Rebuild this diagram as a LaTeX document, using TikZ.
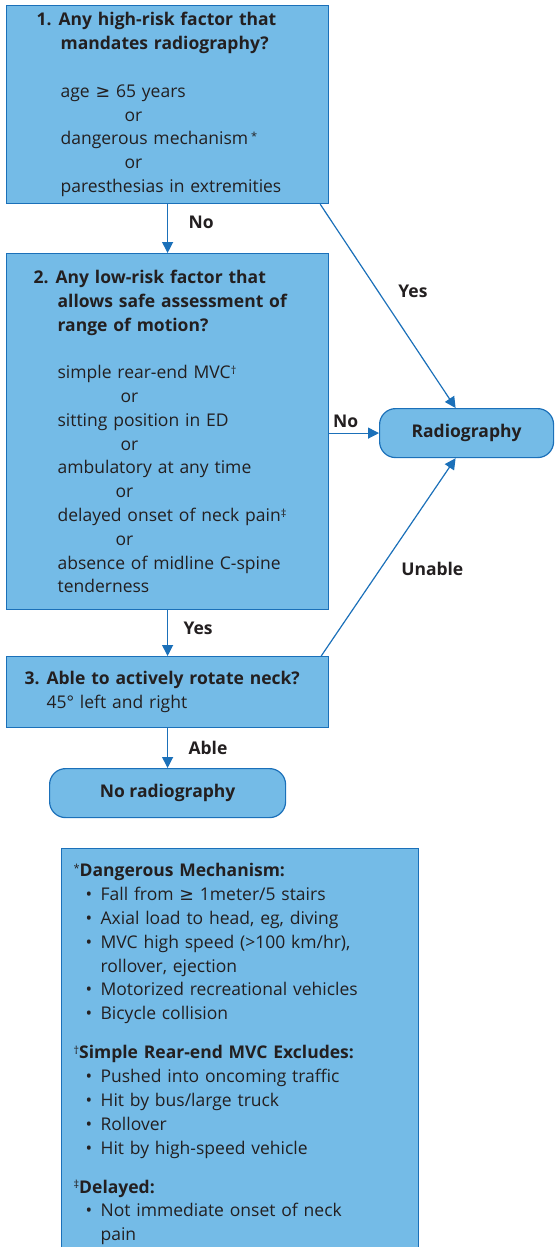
\documentclass[tikz,border=0pt]{standalone}
\usepackage{fontspec}
\setmainfont{Open Sans}
\newfontfamily\symfont{DejaVu Sans}
\usepackage{xcolor}
\usetikzlibrary{arrows.meta}

\definecolor{boxfill}{RGB}{116,187,231}
\definecolor{boxline}{RGB}{27,112,185}
\definecolor{ink}{RGB}{35,31,32}

\newcommand{\fs}{\fontsize{17.5}{23.8}\selectfont}
\newcommand{\gte}{{\symfont ≥}}
\newcommand{\hangnum}[1]{\makebox[22pt][l]{\textbf{#1}}}
\newcommand{\ind}{\hspace*{24pt}}
\newcommand{\bul}{\hspace*{12pt}\makebox[15pt][l]{\textbullet}}
\newcommand{\cont}{\hspace*{27pt}}
\newcommand{\note}[1]{\raisebox{4.5pt}{\fontsize{11}{11}\selectfont #1}}

\begin{document}
\begin{tikzpicture}[
    x=1pt, y=-1pt,
    stepbox/.style={draw=boxline, fill=boxfill, line width=1.2pt, anchor=north west, align=left, text=ink, font=\fs, inner ysep=0pt},
    endbox/.style={draw=boxline, fill=boxfill, line width=1.2pt, rounded corners=16pt, anchor=north west, minimum height=49pt, text=ink, font=\fs\bfseries},
    flow/.style={draw=boxline, line width=1.2pt, -{Triangle[length=11pt, width=11pt]}},
    lbl/.style={text=ink, font=\fs\bfseries}
]
\useasboundingbox (0,0) rectangle (554,1247);

% Nodes
\node (q1) [stepbox, text width=262pt, inner xsep=30pt, minimum height=198pt] at (6,5) {%
  \hangnum{1.}\textbf{Any high-risk factor that}\\
  \ind\textbf{mandates radiography?}\\[23.8pt]
  \ind age \gte{} 65 years\\
  \hspace*{88pt}or\\
  \ind dangerous mechanism\,\note{*}\\
  \hspace*{88pt}or\\
  \ind paresthesias in extremities};
\node (q2) [stepbox, text width=268pt, inner xsep=27pt, minimum height=356pt] at (6,253) {%
  \hangnum{2.}\textbf{Any low-risk factor that}\\
  \ind\textbf{allows safe assessment of}\\
  \ind\textbf{range of motion?}\\[23.8pt]
  \ind simple rear-end MVC\note{†}\\
  \hspace*{87pt}or\\
  \ind sitting position in ED\\
  \hspace*{87pt}or\\
  \ind ambulatory at any time\\
  \hspace*{82pt}or\\
  \ind delayed onset of neck pain\note{‡}\\
  \hspace*{82pt}or\\
  \ind absence of midline C-spine\\
  \ind tenderness};
\node (q3) [stepbox, text width=286pt, inner xsep=18pt, minimum height=71pt] at (6,656) {%
  \hangnum{3.}\textbf{Able to actively rotate neck?}\\
  \hspace*{22pt}45° left and right};
\node (radio) [endbox, minimum width=174pt] at (379,408) {Radiography};
\node (noradio) [endbox, minimum width=236pt] at (49,768) {No radiography};
\node (notes) [stepbox, text width=333pt, inner xsep=12pt, inner ysep=15pt] at (61,848) {%
  \note{*}\textbf{Dangerous Mechanism:}\\
  \bul Fall from \gte{} 1meter/5 stairs\\
  \bul Axial load to head, eg, diving\\
  \bul MVC high speed (>100 km/hr),\\
  \cont rollover, ejection\\
  \bul Motorized recreational vehicles\\
  \bul Bicycle collision\\[15.3pt]
  \note{†}\textbf{Simple Rear-end MVC Excludes:}\\
  \bul Pushed into oncoming traffic\\
  \bul Hit by bus/large truck\\
  \bul Rollover\\
  \bul Hit by high-speed vehicle\\[15.3pt]
  \note{‡}\textbf{Delayed:}\\
  \bul Not immediate onset of neck\\
  \cont pain};

% Arrows
\draw[flow] (q1.south) -- node[lbl, pos=0.38, anchor=west, xshift=17pt] {No} (q2.north);
\draw[flow] ([xshift=-9pt]q1.south east) -- node[lbl, pos=0.43, anchor=west, xshift=16pt] {Yes} ([xshift=-11pt]radio.north);
\draw[flow] (q2.east |- radio.west) -- node[lbl, pos=0.33, above=2pt] {No} (radio.west);
\draw[flow] (q2.south) -- node[lbl, pos=0.4, anchor=west, xshift=12pt] {Yes} (q3.north);
\draw[flow] ([xshift=-8pt]q3.north east) -- node[lbl, pos=0.44, anchor=west, xshift=17pt] {Unable} ([xshift=-11pt]radio.south);
\draw[flow] (q3.south) -- node[lbl, pos=0.49, anchor=west, xshift=17pt] {Able} (noradio.north);
\end{tikzpicture}
\end{document}
